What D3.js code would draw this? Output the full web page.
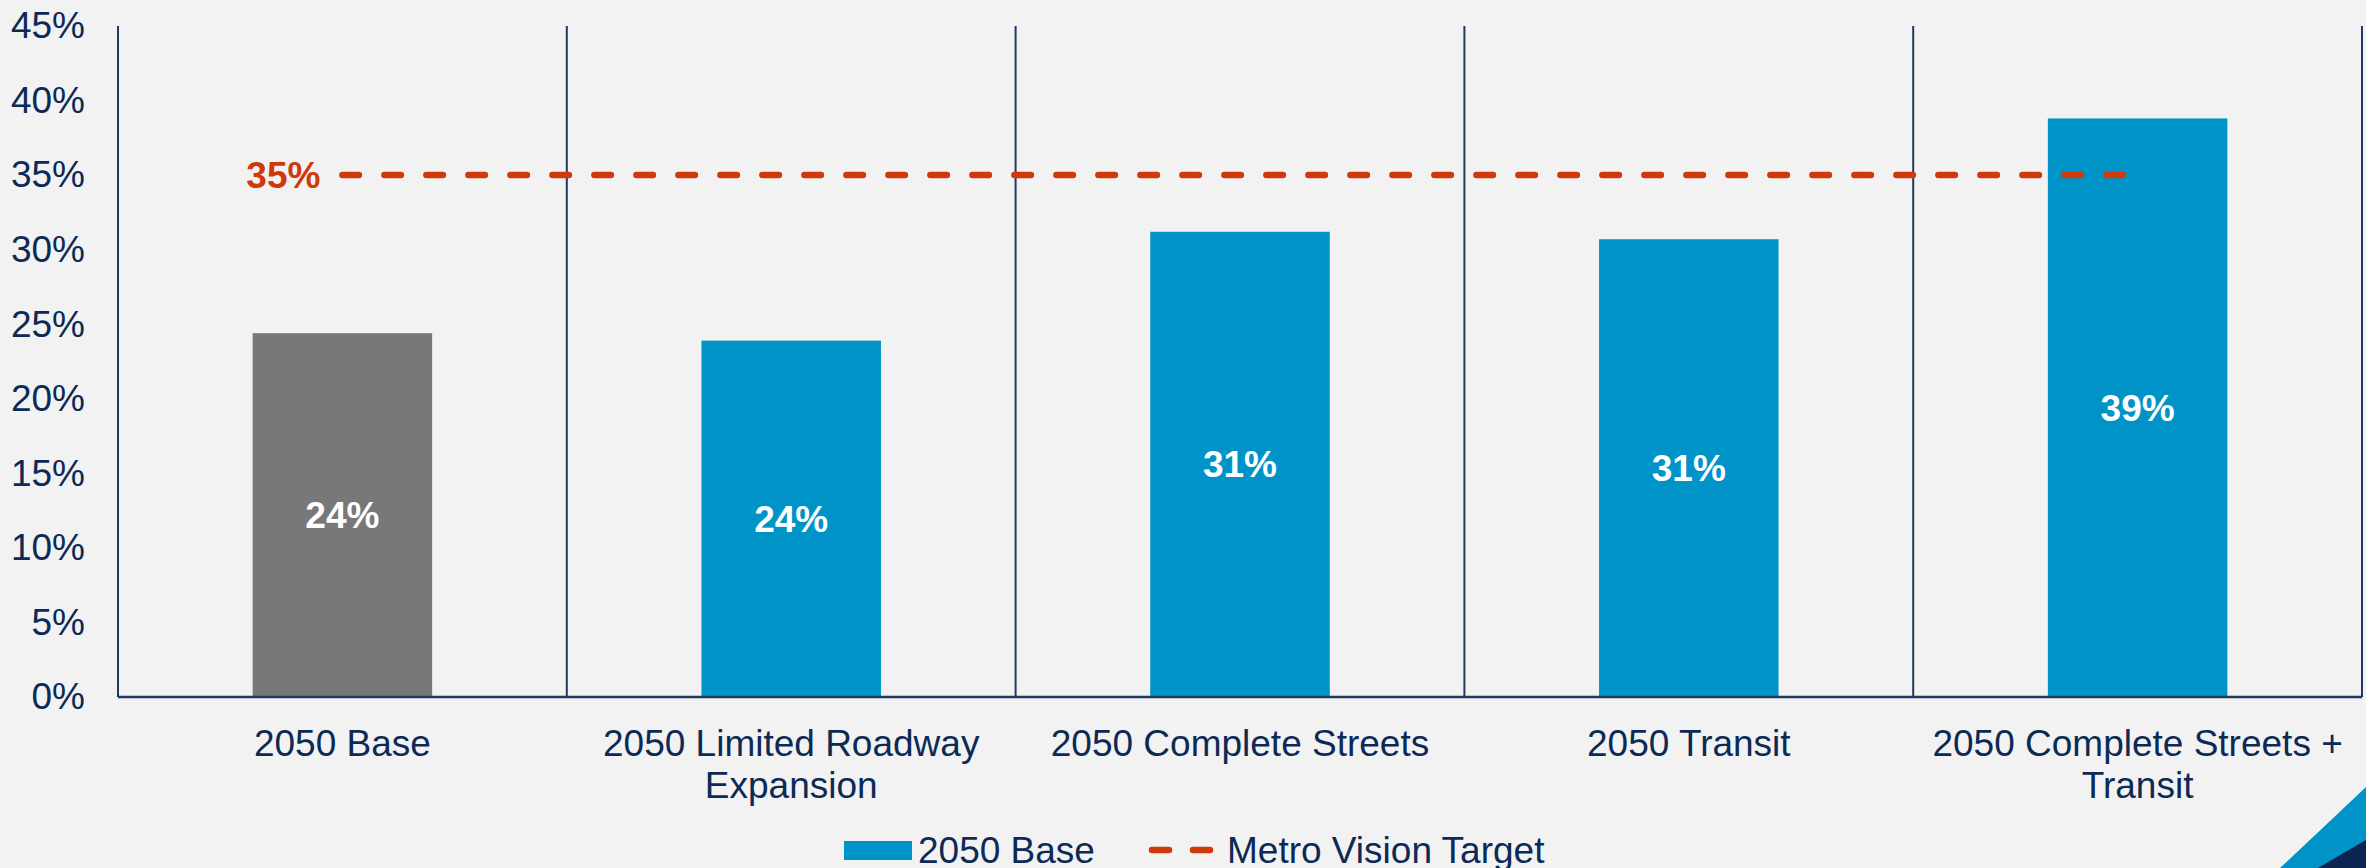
<!DOCTYPE html>
<html>
<head>
<meta charset="utf-8">
<script src="https://cdn.jsdelivr.net/npm/d3@7"></script>
<style>
  html, body { margin: 0; padding: 0; background: #f2f2f2; }
  svg { display: block; font-family: "Liberation Sans", Arial, sans-serif; }
</style>
</head>
<body>
<svg id="chart" width="2366" height="868"></svg>
<script>
// chart data
var categories = ['2050 Base', '2050 Limited Roadway Expansion', '2050 Complete Streets', '2050 Transit', '2050 Complete Streets + Transit'];
var shareValues = [0.244, 0.239, 0.312, 0.307, 0.388];
var shareLabels = ['24%', '24%', '31%', '31%', '39%'];
var targetValues = [0.35, 0.35, 0.35, 0.35, 0.35];
var yTicks = [0, 0.05, 0.10, 0.15, 0.20, 0.25, 0.30, 0.35, 0.40, 0.45];
var legendNames = ['2050 Base', 'Metro Vision Target'];

var navy = '#0c2a55', blue = '#0093c7', gray = '#787878', red = '#d0390a';

var svg = d3.select('#chart');
var plotLeft = 118, plotRight = 2362, plotTop = 26, plotBottom = 697;

var x = d3.scaleBand().domain(categories).range([plotLeft, plotRight]).paddingInner(0).paddingOuter(0);
var y = d3.scaleLinear().domain([0, 0.45]).range([plotBottom, plotTop]);

// vertical category dividers
var edges = categories.map(function (c) { return x(c); }).concat([plotRight]);
svg.append('g').selectAll('line').data(edges).enter().append('line')
  .attr('x1', function (d) { return d; }).attr('x2', function (d) { return d; })
  .attr('y1', y(0.45)).attr('y2', y(0))
  .attr('stroke', '#1f3864').attr('stroke-width', 2);

// y axis labels
var yAxis = svg.append('g').attr('transform', 'translate(' + plotLeft + ',0)')
  .call(d3.axisLeft(y).tickValues(yTicks).tickSize(0).tickPadding(33).tickFormat(d3.format('.0%')));
yAxis.select('.domain').remove();
yAxis.selectAll('text').attr('font-size', 37).attr('fill', navy).attr('font-family', '"Liberation Sans", Arial, sans-serif');

// bars
var bw = x.bandwidth() * 0.4;
svg.append('g').selectAll('rect').data(shareValues).enter().append('rect')
  .attr('x', function (d, i) { return x(categories[i]) + (x.bandwidth() - bw) / 2; })
  .attr('y', function (d) { return y(d); })
  .attr('width', bw)
  .attr('height', function (d) { return y(0) - y(d); })
  .attr('fill', function (d, i) { return i === 0 ? gray : blue; });

// bar value labels
svg.append('g').selectAll('text').data(shareValues).enter().append('text')
  .attr('x', function (d, i) { return x(categories[i]) + x.bandwidth() / 2; })
  .attr('y', function (d) { return (y(d) + y(0)) / 2; })
  .attr('dy', '0.35em')
  .attr('text-anchor', 'middle')
  .attr('font-size', 37).attr('font-weight', 'bold').attr('fill', '#fff')
  .text(function (d, i) { return shareLabels[i]; });

// baseline
svg.append('line').attr('x1', plotLeft).attr('x2', plotRight).attr('y1', y(0)).attr('y2', y(0))
  .attr('stroke', '#1f3864').attr('stroke-width', 2.5);

// x axis labels
var xAxis = svg.append('g').attr('transform', 'translate(0,' + y(0) + ')')
  .call(d3.axisBottom(x).tickSize(0).tickPadding(33));
xAxis.select('.domain').remove();
xAxis.selectAll('text').attr('font-size', 37).attr('fill', navy)
  .attr('font-family', '"Liberation Sans", Arial, sans-serif')
  .call(wrap, x.bandwidth() - 10);

function wrap(text, width) {
  text.each(function () {
    var t = d3.select(this), words = t.text().split(/\s+/).reverse(), word, line = [], lineNo = 0;
    var yy = t.attr('y'), dy = parseFloat(t.attr('dy')) || 0;
    var tspan = t.text(null).append('tspan').attr('x', 0).attr('y', yy).attr('dy', dy + 'em');
    while ((word = words.pop())) {
      line.push(word);
      tspan.text(line.join(' '));
      if (tspan.node().getComputedTextLength() > width && line.length > 1) {
        line.pop();
        tspan.text(line.join(' '));
        line = [word];
        tspan = t.append('tspan').attr('x', 0).attr('y', yy).attr('dy', (++lineNo * 1.13 + dy) + 'em').text(word);
      }
    }
  });
}

// target line
var line = d3.line()
  .x(function (d, i) { return x(categories[i]) + x.bandwidth() / 2; })
  .y(function (d) { return y(d); });
svg.append('path').datum(targetValues).attr('d', line)
  .attr('fill', 'none').attr('stroke', red).attr('stroke-width', 6.5)
  .attr('stroke-linecap', 'round').attr('stroke-dasharray', '16.5,25.5');

svg.append('text')
  .attr('x', x(categories[0]) + x.bandwidth() / 2 - 22)
  .attr('y', y(targetValues[0])).attr('dy', '0.35em')
  .attr('text-anchor', 'end').attr('font-size', 37).attr('font-weight', 'bold').attr('fill', red)
  .text(d3.format('.0%')(targetValues[0]));

// legend
var lg = svg.append('g').attr('transform', 'translate(0,850)');
lg.append('rect').attr('x', 844).attr('y', -9).attr('width', 68).attr('height', 19).attr('fill', blue);
lg.append('text').attr('x', 918).attr('y', 0).attr('dy', '0.35em').attr('font-size', 37).attr('fill', navy).text(legendNames[0]);
lg.append('line').attr('x1', 1152).attr('x2', 1211).attr('y1', 0).attr('y2', 0)
  .attr('stroke', red).attr('stroke-width', 6.5).attr('stroke-linecap', 'round').attr('stroke-dasharray', '17,24');
lg.append('text').attr('x', 1227).attr('y', 0).attr('dy', '0.35em').attr('font-size', 37).attr('fill', navy).text(legendNames[1]);

// corner decoration
svg.append('path').attr('d', 'M2366,787 Q2310,840 2280,868 L2366,868 Z').attr('fill', blue);
svg.append('path').attr('d', 'M2366,840 Q2335,858 2318,868 L2366,868 Z').attr('fill', '#0a2550');
</script>
</body>
</html>
